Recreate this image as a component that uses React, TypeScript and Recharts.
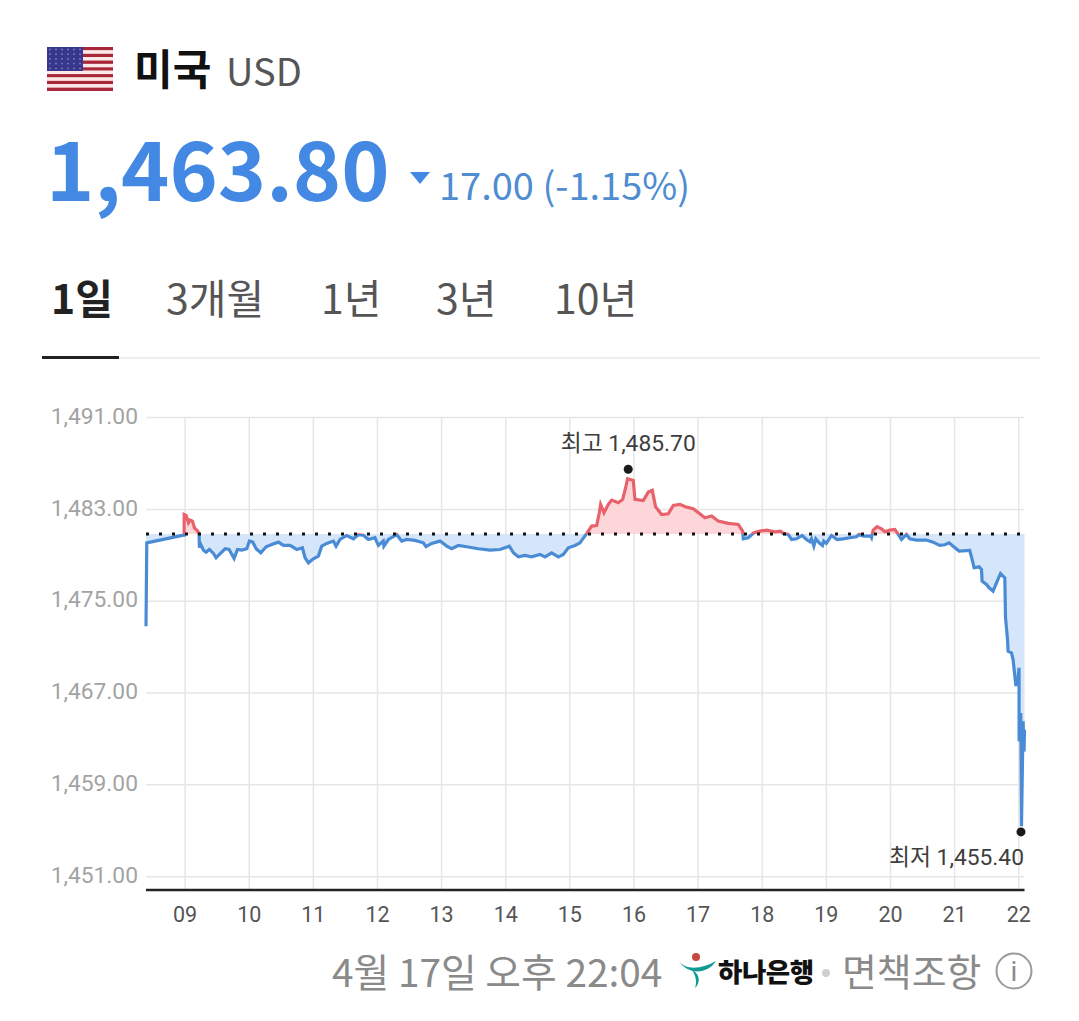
import React from 'react';
import { ComposedChart, Area, XAxis, YAxis, CartesianGrid, ReferenceLine, ReferenceDot, Label } from 'recharts';

const hours = [
  8.39, 8.402, 8.974, 8.985, 8.985, 9.016, 9.052, 9.078, 9.114, 9.145, 9.197, 9.218, 9.223, 9.244, 9.286, 9.327, 9.379, 9.442, 9.483, 9.535,
  9.624, 9.686, 9.764, 9.816, 9.883, 9.961, 10.003, 10.055, 10.107, 10.18, 10.263, 10.351, 10.455, 10.533, 10.637, 10.741, 10.829, 10.871, 10.923, 11.0,
  11.078, 11.13, 11.208, 11.312, 11.354, 11.416, 11.52, 11.624, 11.702, 11.78, 11.858, 11.961, 12.014, 12.09, 12.1, 12.17, 12.3, 12.378, 12.455, 12.585,
  12.715, 12.757, 12.845, 12.975, 13.08, 13.157, 13.26, 13.39, 13.573, 13.755, 13.91, 14.056, 14.119, 14.197, 14.3, 14.404, 14.534, 14.612, 14.716, 14.82,
  14.898, 14.976, 15.08, 15.158, 15.272, 15.34, 15.418, 15.459, 15.48, 15.532, 15.6, 15.652, 15.755, 15.823, 15.87, 15.9, 15.989, 16.015, 16.145, 16.223,
  16.285, 16.337, 16.43, 16.535, 16.613, 16.717, 16.82, 16.925, 17.106, 17.21, 17.314, 17.47, 17.626, 17.694, 17.704, 17.782, 17.87, 17.964, 18.067, 18.197,
  18.285, 18.327, 18.405, 18.457, 18.535, 18.623, 18.69, 18.742, 18.768, 18.805, 18.836, 18.888, 18.94, 18.96, 19.0, 19.08, 19.168, 19.262, 19.366, 19.47,
  19.51, 19.584, 19.688, 19.704, 19.73, 19.792, 19.86, 19.912, 19.99, 20.067, 20.104, 20.171, 20.25, 20.3, 20.405, 20.56, 20.665, 20.769, 20.847, 20.914,
  20.977, 21.07, 21.236, 21.273, 21.304, 21.382, 21.419, 21.429, 21.497, 21.538, 21.6, 21.653, 21.716, 21.783, 21.794, 21.825, 21.834, 21.887, 21.912, 21.954,
  21.98, 22.005, 22.006, 22.032, 22.043, 22.068, 22.083, 22.09,
];
const prices = [
  1472.83, 1480.09, 1480.76, 1480.76, 1482.56, 1482.48, 1481.84, 1482.07, 1481.98, 1481.4, 1481.11, 1480.82, 1479.66, 1479.95, 1479.45, 1479.28, 1479.51, 1479.16, 1478.79, 1479.08,
  1479.57, 1479.51, 1478.73, 1479.51, 1479.45, 1479.57, 1480.24, 1480.15, 1479.57, 1479.22, 1479.75, 1479.95, 1480.15, 1479.86, 1479.86, 1479.51, 1479.66, 1478.79, 1478.35, 1478.7,
  1478.93, 1479.8, 1480.04, 1480.24, 1479.8, 1480.38, 1480.73, 1480.44, 1480.8, 1480.75, 1480.38, 1480.53, 1479.86, 1480.24, 1479.8, 1480.38, 1480.8, 1480.24, 1480.38, 1480.3,
  1480.09, 1479.75, 1480.04, 1480.24, 1479.8, 1479.57, 1479.86, 1479.75, 1479.57, 1479.45, 1479.51, 1479.8, 1479.22, 1478.87, 1478.99, 1478.87, 1479.08, 1478.87, 1479.22, 1478.87,
  1479.08, 1479.66, 1479.86, 1480.09, 1480.97, 1481.55, 1481.6, 1482.71, 1483.44, 1482.71, 1483.44, 1483.81, 1483.58, 1483.87, 1484.89, 1485.67, 1485.53, 1483.87, 1483.78, 1484.51,
  1484.66, 1483.23, 1482.56, 1482.62, 1483.35, 1483.44, 1483.2, 1483.06, 1482.27, 1482.42, 1481.98, 1481.78, 1481.69, 1481.11, 1480.44, 1480.53, 1480.97, 1481.11, 1481.2, 1481.05,
  1481.11, 1480.91, 1480.82, 1480.38, 1480.44, 1480.73, 1480.38, 1480.18, 1480.44, 1479.8, 1480.44, 1480.09, 1479.86, 1480.24, 1480.04, 1480.73, 1480.38, 1480.44, 1480.53, 1480.62,
  1480.82, 1480.68, 1480.68, 1480.53, 1481.2, 1481.49, 1481.31, 1481.05, 1481.2, 1481.26, 1480.97, 1480.38, 1480.82, 1480.44, 1480.33, 1480.33, 1480.15, 1479.86, 1479.92, 1480.09,
  1479.8, 1479.37, 1479.43, 1478.64, 1477.92, 1478.0, 1477.77, 1476.75, 1476.46, 1476.17, 1475.88, 1476.6, 1477.42, 1477.04, 1473.56, 1471.67, 1470.65, 1470.5, 1469.92, 1467.74,
  1467.74, 1469.2, 1462.8, 1465.27, 1455.4, 1464.54, 1461.9, 1463.8,
];
const PREV_CLOSE = 1480.85;
const xTicks = [9, 10, 11, 12, 13, 14, 15, 16, 17, 18, 19, 20, 21, 22];
const yTicks = [1451, 1459, 1467, 1475, 1483, 1491];
const HIGH_MARK = { h: 15.91, v: 1486.5, label: '최고 1,485.70' };
const LOW_MARK = { h: 22.035, v: 1454.9, label: '최저 1,455.40' };
const tabs = [
  { t: '1일', x: 51, bold: true },
  { t: '3개월', x: 166, bold: false },
  { t: '1년', x: 321, bold: false },
  { t: '3년', x: 436, bold: false },
  { t: '10년', x: 554, bold: false },
];

const table = hours.map((h, i) => ({ h, p: prices[i] }));
const maxP = Math.max(...prices);
const minP = Math.min(...prices);
const split = (maxP - PREV_CLOSE) / (maxP - minP);

const KR = '"Noto Sans CJK KR", "Noto Sans", sans-serif';
const abs = (x: number, y: number, extra: React.CSSProperties = {}): React.CSSProperties => ({
  position: 'absolute', left: x, top: y, whiteSpace: 'nowrap', fontFamily: KR, lineHeight: 1, ...extra,
});

function Flag() {
  const stripes = Array.from({ length: 13 }, (_, i) => i);
  const stars = Array.from({ length: 30 }, (_, i) => i);
  return (
    <svg width={66} height={44} style={{ position: 'absolute', left: 47, top: 47 }}>
      {stripes.map((i) => (
        <rect key={i} x={0} y={(i * 44) / 13} width={66} height={44 / 13} fill={i % 2 === 0 ? '#a8283a' : '#fbe9e9'} />
      ))}
      <rect x={0} y={0} width={36} height={24} fill="#37378c" />
      {stars.map((i) => (
        <circle key={i} cx={3 + (i % 6) * 6} cy={2.5 + Math.floor(i / 6) * 4.7} r={0.9} fill="#7f7fc8" />
      ))}
    </svg>
  );
}

function HanaLogo() {
  return (
    <svg width={44} height={40} style={{ position: 'absolute', left: 676, top: 950 }}>
      <circle cx={20} cy={7} r={4} fill="#c8473f" />
      <path d="M2 10 C 10 22, 28 18, 40 11 C 32 24, 12 26, 2 10 Z" fill="#0f9a94" />
      <path d="M16 20 C 25 24, 24 34, 19 38 C 21 32, 20 26, 16 20 Z" fill="#0f9a94" />
    </svg>
  );
}

const lowLabel = (props: any) => {
  const vb = props.viewBox || {};
  return (
    <text x={(vb.x ?? 0) + (vb.width ?? 0) / 2 + 3} y={(vb.y ?? 0) + 38} textAnchor="end" fontFamily="Roboto, 'Noto Sans CJK KR'" fontSize={22.8} fill="#3d3d3d">
      {LOW_MARK.label}
    </text>
  );
};
const highLabel = (props: any) => {
  const vb = props.viewBox || {};
  return (
    <text x={(vb.x ?? 0) + (vb.width ?? 0) / 2} y={(vb.y ?? 0) - 14} textAnchor="middle" fontFamily="Roboto, 'Noto Sans CJK KR'" fontSize={22.8} fill="#3d3d3d">
      {HIGH_MARK.label}
    </text>
  );
};

export default function App() {
  return (
    <div style={{ position: 'absolute', left: 0, top: 0, width: 1079, height: 1021, background: '#fff', overflow: 'hidden' }}>
      <Flag />
      <div style={abs(134, 46, { fontSize: 42, fontWeight: 700, color: '#111' })}>미국</div>
      <div style={abs(226, 51, { fontSize: 38, color: '#555' })}>USD</div>
      <div style={abs(46, 125, { fontSize: 82, fontWeight: 700, color: '#4389e3' })}>1,463.80</div>
      <svg width={22} height={14} style={{ position: 'absolute', left: 409, top: 171 }}>
        <polygon points="1,1 21,1 11,13" fill="#4389e3" />
      </svg>
      <div style={abs(439, 165, { fontSize: 38, color: '#4f8dd0' })}>17.00 (-1.15%)</div>
      {tabs.map((t) => (
        <div key={t.t} style={abs(t.x, 276, { fontSize: 41, fontWeight: t.bold ? 700 : 400, color: t.bold ? '#222' : '#555' })}>{t.t}</div>
      ))}
      <div style={{ position: 'absolute', left: 119, top: 357, width: 921, height: 2, background: '#efefef' }} />
      <div style={{ position: 'absolute', left: 42, top: 355.5, width: 77, height: 3, background: '#222' }} />

      <div style={{ position: 'absolute', left: 0, top: 0 }}>
        <ComposedChart width={1079} height={1021} data={table} margin={{ top: 417.6, right: 54.5, bottom: 91, left: 0 }}>
          <defs>
            <linearGradient id="strokeSplit" x1="0" y1="0" x2="0" y2="1">
              <stop offset={split} stopColor="#e8626c" />
              <stop offset={split} stopColor="#4a8bd6" />
            </linearGradient>
            <linearGradient id="fillSplit" x1="0" y1="0" x2="0" y2="1">
              <stop offset={split} stopColor="#fdd6d9" />
              <stop offset={split} stopColor="#d5e6fa" />
            </linearGradient>
          </defs>
          <CartesianGrid stroke="#e6e6e6" strokeWidth={1.5} syncWithTicks />
          <XAxis
            dataKey="h"
            type="number"
            domain={[8.39, 22.09]}
            ticks={xTicks}
            allowDuplicatedCategory
            interval={0}
            tickFormatter={(v: number) => String(v).padStart(2, '0')}
            tickLine={false}
            axisLine={{ stroke: '#222', strokeWidth: 2.5 }}
            tickMargin={11}
            height={40}
            tick={{ fontFamily: 'Roboto', fontSize: 21.5, fill: '#555' }}
          />
          <YAxis
            type="number"
            domain={[1449.84, 1491]}
            ticks={yTicks}
            width={146}
            tickLine={false}
            axisLine={false}
            tickMargin={2}
            tickFormatter={(v: number) => v.toLocaleString('en-US', { minimumFractionDigits: 2 })}
            tick={{ fontFamily: 'Roboto', fontSize: 22.8, fill: '#a3a3a3', dy: -2 }}
          />
          <Area
            dataKey="p"
            type="linear"
            baseValue={PREV_CLOSE}
            stroke="url(#strokeSplit)"
            strokeWidth={3.2}
            fill="url(#fillSplit)"
            fillOpacity={1}
            dot={false}
            activeDot={false}
            isAnimationActive={false}
          />
          <ReferenceLine
            segment={[{ x: 8.39, y: PREV_CLOSE }, { x: 22.17, y: PREV_CLOSE }]}
            ifOverflow="visible"
            stroke="#111"
            strokeWidth={3}
            strokeDasharray="3 10"
          />
          <ReferenceDot x={HIGH_MARK.h} y={HIGH_MARK.v} r={4.5} fill="#1a1a1a" stroke="none" ifOverflow="visible">
            <Label content={highLabel} />
          </ReferenceDot>
          <ReferenceDot x={LOW_MARK.h} y={LOW_MARK.v} r={4.5} fill="#1a1a1a" stroke="none" ifOverflow="visible">
            <Label content={lowLabel} />
          </ReferenceDot>
        </ComposedChart>
      </div>

      <div style={abs(332, 951, { fontSize: 38.8, color: '#8a8a8a' })}>4월 17일 오후 22:04</div>
      <HanaLogo />
      <div style={abs(718, 958, { fontSize: 26.5, fontWeight: 900, color: '#111', letterSpacing: -0.5 })}>하나은행</div>
      <div style={{ position: 'absolute', left: 822, top: 969, width: 8, height: 8, borderRadius: 4, background: '#cfcfcf' }} />
      <div style={abs(842, 951, { fontSize: 37.9, color: '#8a8a8a' })}>면책조항</div>
      <svg width={40} height={40} style={{ position: 'absolute', left: 994, top: 951 }}>
        <circle cx={20} cy={20} r={17.5} fill="none" stroke="#9a9a9a" strokeWidth={2} />
        <text x={20} y={30} textAnchor="middle" fontFamily="Roboto" fontSize={28} fill="#8a8a8a">i</text>
      </svg>
    </div>
  );
}
